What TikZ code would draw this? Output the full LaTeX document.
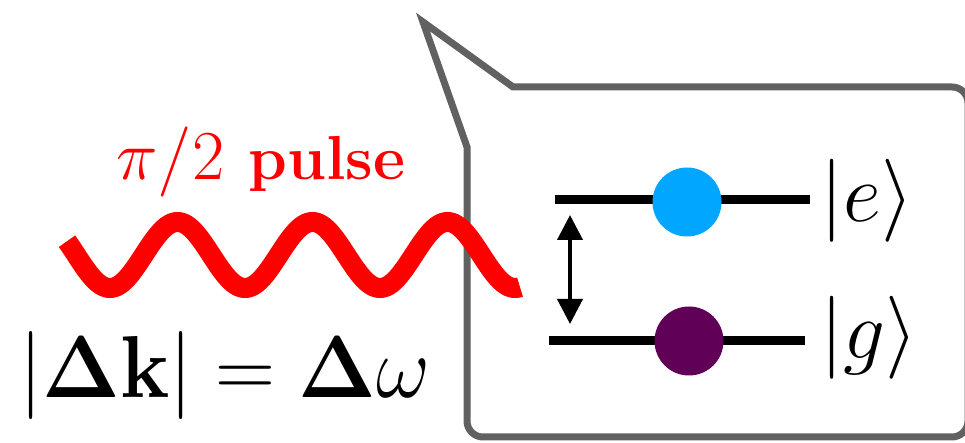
\documentclass[tikz,border=0pt]{standalone}
\usepackage{amsmath}
\usepackage{graphicx}
\usetikzlibrary{arrows.meta}
\definecolor{calloutgray}{RGB}{97,97,97}
\definecolor{exblue}{RGB}{0,166,255}
\definecolor{gpurple}{RGB}{96,0,86}
\tikzset{
  callout/.style={draw=calloutgray, line width=3.5pt, fill=white},
  wave/.style={draw=red, line width=10pt, line cap=butt},
  level/.style={draw=black, line width=4.5pt},
  atom/.style={circle, minimum size=34.5pt, inner sep=0pt},
  transition/.style={draw=black, line width=2pt, {Triangle[width=12.5pt,length=12.5pt]}-{Triangle[width=12.5pt,length=12.5pt]}},
  txt/.style={inner sep=0pt, anchor=base west, font=\fontsize{24.88}{30}\selectfont},
}
\begin{document}
\begin{tikzpicture}[x=0.5pt, y=-0.5pt]
\useasboundingbox (0,0) rectangle (965,443);
\begin{scope}
\clip (0,0) rectangle (965,443);
\draw[callout] (467,147) -- (423,22) -- (513,87) -- (700,87) [rounded corners=8pt] -- (968,87) -- (968,437) -- (467,437) -- (467,300) [sharp corners] -- cycle;
\end{scope}
% wave
\draw[wave] plot[domain=67:520, samples=300, smooth] (\x, {255+33*cos((\x-110)*2.666667)});
% text
\node[txt, text=red] (pi) at (116,180) {\scalebox{1.41}{$\pi/2$}};
\node[txt, text=red] (pulse) at (248,180) {\scalebox{1.25}{\textbf{pulse}}};
\node[txt] (disp) at (19,398) {\scalebox{1.67}[1.768]{$|\mathbf{\Delta k}| = \mathbf{\Delta}\omega$}};
% levels
\coordinate (eL) at (555,200);
\coordinate (eR) at (810,200);
\coordinate (gL) at (549,341);
\coordinate (gR) at (805,341);
\draw[level] (eL) -- (eR);
\draw[level] (gL) -- (gR);
\node[atom, fill=exblue] (eatom) at (687,202) {};
\node[atom, fill=gpurple] (gatom) at (689,341) {};
\coordinate (aT) at (570,215);
\coordinate (aB) at (570,324);
\draw[transition] (aT) -- (aB);
\node[txt] (elab) at (820,222) {\scalebox{1.668}{$|e\rangle$}};
\node[txt] (glab) at (820,359) {\scalebox{1.668}{$|g\rangle$}};
\end{tikzpicture}
\end{document}
